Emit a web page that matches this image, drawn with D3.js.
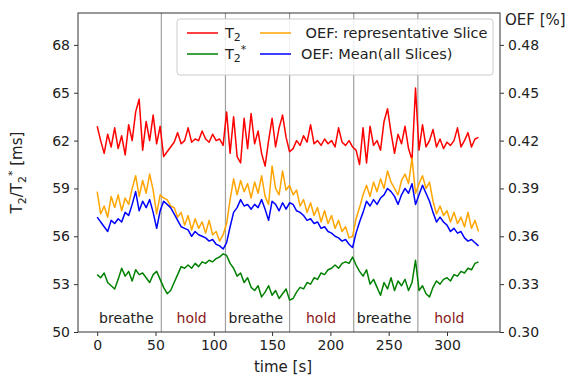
<!DOCTYPE html>
<html>
<head>
<meta charset="utf-8">
<script src="https://cdn.jsdelivr.net/npm/d3@7"></script>
<style>
  body { margin: 0; background: #fff; }
  svg text { font-family: "DejaVu Sans", sans-serif; fill: #222; }
</style>
</head>
<body>
<div id="chart"></div>
<script>
// sample times [s]
var time = [0,3,6,9,12,15,18,21,24,27,30,33,36,39,42,45,48,51,54,
  57,60,63,66,69,72,75,78,81,84,87,90,93,96,99,102,105,108,
  111,114,117,120,123,126,129,132,135,138,141,144,147,150,153,156,159,162,165,
  168,171,174,177,180,183,186,189,192,195,198,201,204,207,210,213,216,219,
  222,225,228,231,234,237,240,243,246,249,252,255,258,261,264,267,270,273,
  276,279,282,285,288,291,294,297,300,303,306,309,312,315,318,321,324,327];

// T2 [ms]
var t2 = [62.9,62.0,61.2,62.4,61.6,62.8,61.5,62.3,61.1,63.0,62.0,63.8,64.6,61.4,63.2,62.0,63.6,61.8,62.9,
  61.0,61.3,61.6,61.9,62.5,61.8,62.0,62.8,61.9,62.1,62.0,62.6,62.1,61.9,62.4,62.0,62.1,61.7,
  63.8,61.2,63.5,61.0,60.6,63.4,61.5,63.7,61.8,62.6,61.2,60.4,62.0,63.4,61.6,62.8,63.6,62.2,61.3,
  61.5,62.0,61.7,62.3,61.9,63.0,61.8,62.0,61.7,62.1,61.8,62.0,61.6,62.8,61.9,61.7,62.0,61.6,
  61.4,60.5,62.8,60.6,62.9,61.7,62.0,61.4,63.2,64.0,62.5,61.2,62.4,61.8,62.9,61.5,60.8,65.3,
  61.4,63.0,61.6,62.0,62.7,61.6,62.1,61.5,61.9,61.7,62.0,62.8,61.6,62.0,62.5,61.6,62.1,62.2];

// T2* [ms]
var t2star = [53.6,53.4,53.7,53.1,52.9,52.7,53.3,54.0,53.5,53.8,53.2,53.9,53.6,53.7,53.4,53.1,53.6,53.8,53.3,
  52.8,52.4,52.6,53.1,53.6,54.1,54.0,54.2,54.0,54.3,54.1,54.4,54.3,54.5,54.4,54.6,54.7,54.9,
  54.8,54.3,54.0,53.5,53.7,53.1,53.4,52.8,52.6,52.9,52.2,52.5,52.9,52.3,52.6,52.1,52.4,52.7,52.0,
  52.1,52.5,52.8,52.7,53.1,53.0,53.4,53.3,53.7,53.6,53.9,54.0,54.2,54.0,54.3,54.4,54.3,54.7,
  54.2,53.8,53.5,53.9,53.0,53.3,52.8,52.3,53.1,52.7,53.4,52.6,53.2,52.9,53.3,52.6,53.1,54.5,
  52.6,52.9,52.4,52.2,52.8,53.2,53.0,53.3,53.4,53.2,53.6,53.5,53.8,53.7,54.0,53.9,54.3,54.4];

// OEF, representative slice
var oefSlice = [0.388,0.374,0.379,0.372,0.385,0.378,0.386,0.376,0.384,0.380,0.390,0.398,0.385,0.395,0.387,0.399,0.389,0.374,0.386,
  0.384,0.383,0.379,0.378,0.372,0.375,0.367,0.373,0.364,0.371,0.365,0.369,0.362,0.370,0.361,0.363,0.357,0.361,
  0.368,0.383,0.396,0.386,0.395,0.388,0.393,0.384,0.394,0.387,0.398,0.385,0.380,0.404,0.390,0.386,0.401,0.389,0.392,
  0.386,0.389,0.379,0.383,0.375,0.381,0.373,0.378,0.369,0.376,0.368,0.373,0.365,0.370,0.363,0.366,0.359,0.360,
  0.371,0.378,0.386,0.392,0.385,0.394,0.388,0.396,0.390,0.401,0.394,0.390,0.386,0.395,0.399,0.393,0.409,0.387,
  0.393,0.398,0.390,0.394,0.382,0.374,0.379,0.373,0.376,0.369,0.375,0.368,0.372,0.366,0.375,0.365,0.370,0.363];

// OEF, mean over all slices
var oefMean = [0.372,0.369,0.366,0.363,0.370,0.368,0.371,0.369,0.375,0.373,0.380,0.388,0.376,0.382,0.378,0.383,0.375,0.365,0.376,
  0.382,0.380,0.378,0.374,0.370,0.366,0.365,0.364,0.360,0.363,0.361,0.360,0.359,0.357,0.358,0.355,0.354,0.352,
  0.356,0.366,0.375,0.378,0.383,0.379,0.380,0.377,0.380,0.378,0.383,0.377,0.370,0.382,0.380,0.376,0.381,0.377,0.381,
  0.380,0.376,0.375,0.373,0.370,0.371,0.368,0.369,0.365,0.366,0.363,0.362,0.360,0.359,0.357,0.358,0.355,0.353,
  0.362,0.369,0.375,0.382,0.379,0.383,0.380,0.384,0.386,0.390,0.388,0.385,0.380,0.386,0.390,0.387,0.393,0.380,
  0.386,0.392,0.387,0.382,0.375,0.369,0.372,0.369,0.367,0.363,0.365,0.362,0.363,0.359,0.357,0.358,0.356,0.354];

// phase boundaries and labels
var phaseLines = [55, 110, 165, 220, 275];
var phaseNames = ["breathe", "hold", "breathe", "hold", "breathe", "hold"];
var phaseCenters = [25, 81, 136, 192, 246, 302];

var xTicks = [0, 50, 100, 150, 200, 250, 300];
var yTicks = [50, 53, 56, 59, 62, 65, 68];
var oefTicks = [0.30, 0.33, 0.36, 0.39, 0.42, 0.45, 0.48];

var W = 578, H = 378;
var margin = { top: 13, right: 78, bottom: 46, left: 78 },
    width = W - margin.left - margin.right,
    height = H - margin.top - margin.bottom;

var svg = d3.select("#chart").append("svg")
    .attr("width", W)
    .attr("height", H)
    .append("g")
    .attr("transform", "translate(" + margin.left + "," + margin.top + ")");

var x = d3.scaleLinear().domain([-16.45, 345.45]).range([0, width]);
var y = d3.scaleLinear().domain([50, 70]).range([height, 0]);
var y2 = d3.scaleLinear().domain([0.30, 0.50]).range([height, 0]);

// phase separators
svg.selectAll(".phase")
    .data(phaseLines)
    .enter().append("line")
    .attr("class", "phase")
    .attr("x1", d => x(d)).attr("x2", d => x(d))
    .attr("y1", 0).attr("y2", height)
    .style("stroke", "#a0a0a0")
    .style("stroke-width", 1.2);

svg.selectAll(".phaselabel")
    .data(phaseNames)
    .enter().append("text")
    .attr("class", "phaselabel")
    .attr("x", (d, i) => x(phaseCenters[i]))
    .attr("y", height - 9)
    .attr("text-anchor", "middle")
    .style("font-size", "14px")
    .style("fill", d => d == "hold" ? "#8b1a1a" : "#222")
    .text(d => d);

function addLine(values, scale, color) {
    var line = d3.line()
        .x((d, i) => x(time[i]))
        .y(d => scale(d));
    svg.append("path")
        .datum(values)
        .attr("d", line)
        .style("fill", "none")
        .style("stroke", color)
        .style("stroke-width", 1.5)
        .style("stroke-linejoin", "round");
}
addLine(t2, y, "#ff0000");
addLine(t2star, y, "#008000");
addLine(oefSlice, y2, "#ffa500");
addLine(oefMean, y2, "#0000ff");

// axes
var xAxis = d3.axisBottom(x).tickValues(xTicks).tickSize(4).tickPadding(4);
var yAxis = d3.axisLeft(y).tickValues(yTicks).tickSize(4).tickPadding(4);
var y2Axis = d3.axisRight(y2).tickValues(oefTicks).tickSize(4).tickPadding(4).tickFormat(d3.format(".2f"));

function styleAxis(g) {
    g.selectAll("path").remove();
    g.selectAll("line").style("stroke", "#333");
    g.selectAll("text").style("font-size", "14px").style("fill", "#222")
        .style("font-family", "DejaVu Sans, sans-serif");
}
svg.append("g").attr("transform", "translate(0," + height + ")").call(xAxis).call(styleAxis);
svg.append("g").call(yAxis).call(styleAxis);
svg.append("g").attr("transform", "translate(" + width + ",0)").call(y2Axis).call(styleAxis);

// frame
svg.append("rect")
    .attr("width", width).attr("height", height)
    .style("fill", "none").style("stroke", "#333").style("stroke-width", 1);

// axis labels
svg.append("text")
    .attr("x", 205)
    .attr("y", height + 40)
    .attr("text-anchor", "middle")
    .style("font-size", "15px")
    .text("time [s]");

var ylab = svg.append("text")
    .attr("transform", "translate(-56," + (height / 2) + ") rotate(-90)")
    .attr("text-anchor", "middle")
    .style("font-size", "15px");
ylab.append("tspan").text("T");
ylab.append("tspan").attr("dy", 4).style("font-size", "11px").text("2");
ylab.append("tspan").attr("dy", -4).text("/T");
ylab.append("tspan").attr("dy", 4).style("font-size", "11px").text("2");
ylab.append("tspan").attr("dy", -10).style("font-size", "11px").text("*");
ylab.append("tspan").attr("dy", 6).text(" [ms]");

svg.append("text")
    .attr("x", width + 5)
    .attr("y", 12)
    .style("font-size", "15px")
    .text("OEF [%]");

// legend
var legend = svg.append("g").attr("transform", "translate(99,6)");
legend.append("rect")
    .attr("width", 316).attr("height", 56)
    .attr("rx", 3)
    .style("fill", "#fff").style("fill-opacity", 0.85)
    .style("stroke", "#ccc");

var items = [
    { col: 0, row: 0, color: "#ff0000", label: "T2" },
    { col: 0, row: 1, color: "#008000", label: "T2*" },
    { col: 1, row: 0, color: "#ffa500", label: " OEF: representative Slice" },
    { col: 1, row: 1, color: "#0000ff", label: "OEF: Mean(all Slices)" }
];
var colX = [10, 83];
var textGap = [38, 41];
items.forEach(function (d) {
    var gx = colX[d.col], gy = 14 + d.row * 21;
    legend.append("line")
        .attr("x1", gx).attr("x2", gx + 31)
        .attr("y1", gy).attr("y2", gy)
        .style("stroke", d.color).style("stroke-width", 1.5);
    var t = legend.append("text")
        .attr("x", gx + textGap[d.col]).attr("y", gy + 5)
        .style("font-size", "14.5px");
    if (d.label.indexOf("T2") == 0) {
        t.append("tspan").text("T");
        t.append("tspan").attr("dy", 3).style("font-size", "11px").text("2");
        if (d.label == "T2*") t.append("tspan").attr("dy", -9).style("font-size", "11px").text("*");
    } else {
        t.attr("xml:space", "preserve").text(d.label);
    }
});
</script>
</body>
</html>
